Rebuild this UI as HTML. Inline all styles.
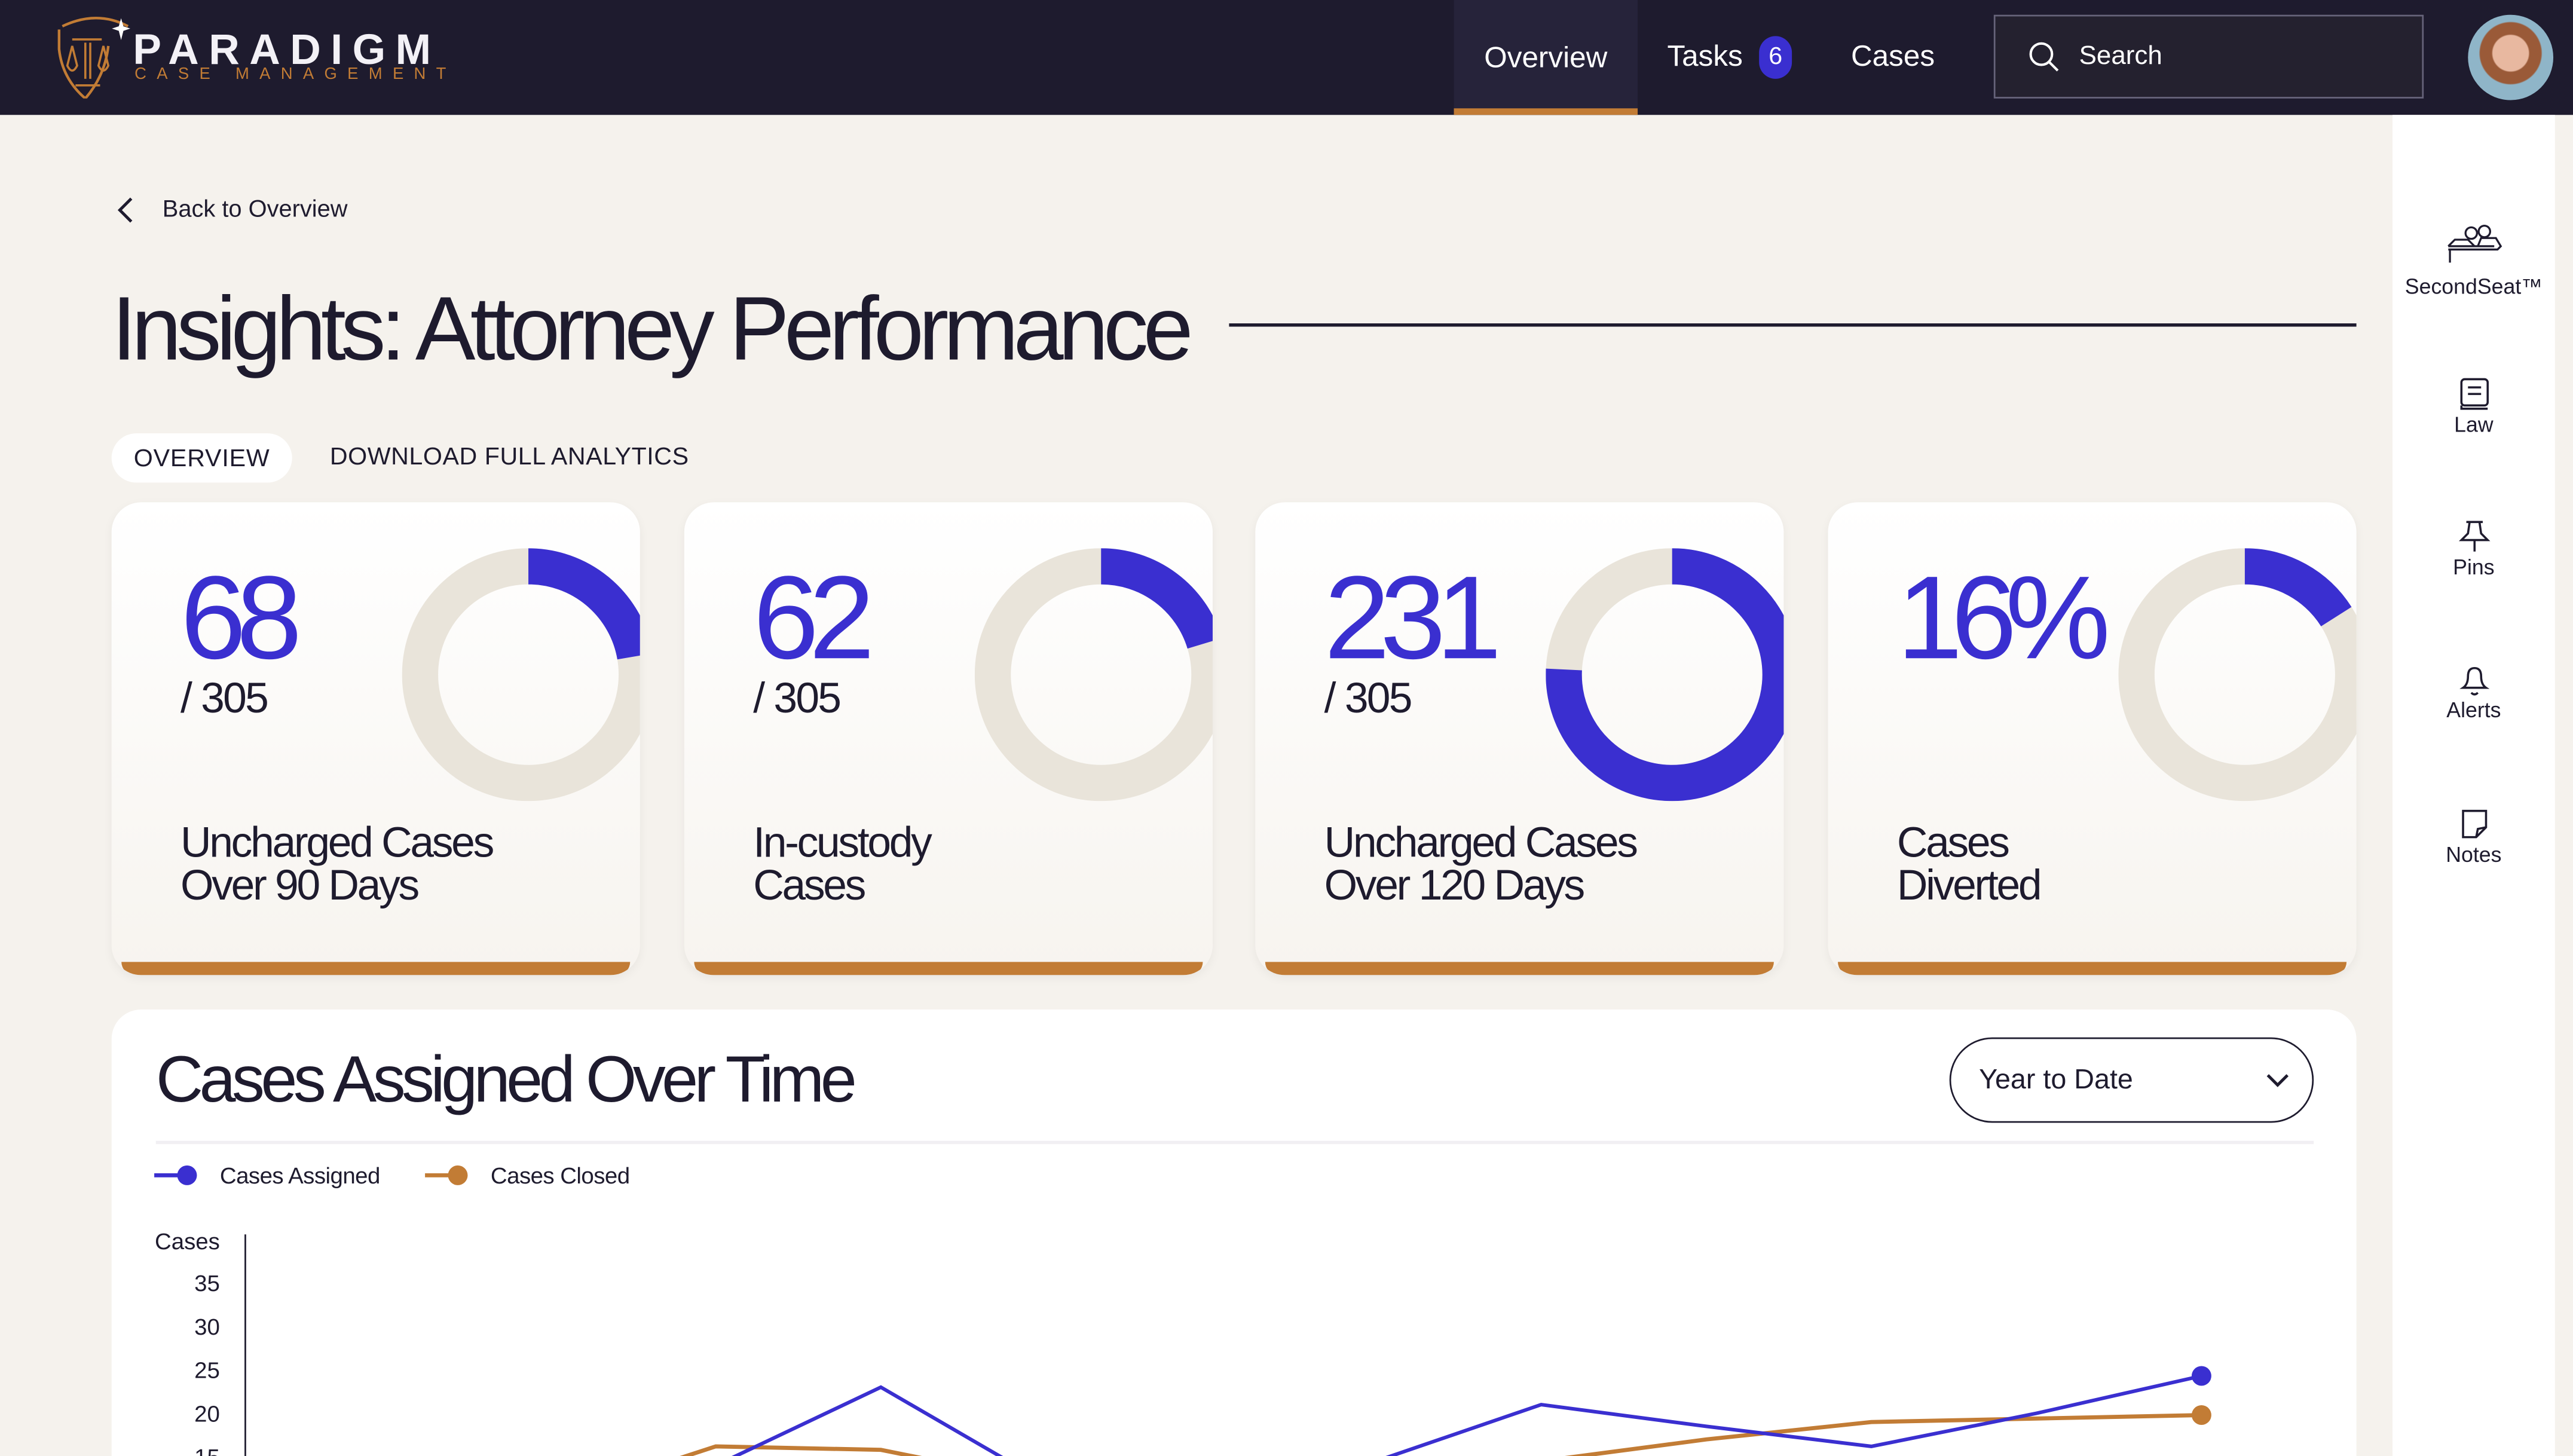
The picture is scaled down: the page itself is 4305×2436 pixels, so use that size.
<!DOCTYPE html>
<html><head><meta charset="utf-8">
<style>
html,body{margin:0;padding:0;width:4305px;height:2436px;overflow:hidden;background:#f5f2ed;font-family:"Liberation Sans",sans-serif;}
#root{position:absolute;left:0;top:0;width:1568px;height:887px;transform-origin:0 0;transform:scale(2.74554,2.74634);background:#f5f2ed;overflow:hidden;color:#1e1b2e;}
.abs{position:absolute;}
.card{position:absolute;top:306px;width:322px;height:288px;border-radius:18px;background:linear-gradient(#ffffff,#f7f4ef);overflow:hidden;box-shadow:0 2px 6px rgba(0,0,0,0.05);}
.card .bar{position:absolute;left:6px;right:6px;bottom:0;height:8px;background:#c27c35;border-radius:0 0 12px 12px;}
.num{position:absolute;left:42px;top:30px;font-size:72px;color:#3a2fd0;letter-spacing:-6px;}
.den{position:absolute;left:42px;top:104px;font-size:26px;letter-spacing:-1px;}
.lbl{position:absolute;left:42px;top:194px;font-size:26px;line-height:26px;letter-spacing:-1.2px;}
.side{position:absolute;left:1458px;width:99px;text-align:center;font-size:13px;}
</style></head><body>
<div id="root">
 <div class="abs" style="left:0;top:0;width:1568px;height:70px;background:#1e1b2e;"></div>
 <svg class="abs" style="left:24px;top:10px" width="60" height="50" viewBox="0 0 60 50">
  <path d="M14 6 Q35 -4 54 6 M12 8 L12 20 Q14 38 28 50 Q40 36 42 18" fill="none" stroke="#c27c35" stroke-width="1.6"/>
  <path d="M34 3 L36 10 L42 12 L36 14 L34 22 L32 14 L26 12 L32 10Z" fill="#fff" transform="translate(26,-1) scale(0.7)"/>
  <path d="M20 14 L38 14 M28 16 L28 38 M31 16 L31 38 M22 42 L37 42 M20 18 L17 30 Q20 36 23 30 Z M39 18 L36 30 Q39 36 42 30 Z" fill="none" stroke="#c27c35" stroke-width="1.3"/>
 </svg>
 <div class="abs" style="left:81px;top:15px;font-size:26px;letter-spacing:6px;color:#f3f1f6;font-weight:bold;">PARADIGM</div>
 <div class="abs" style="left:82px;top:40px;font-size:10px;letter-spacing:6.3px;color:#c27c35;">CASE MANAGEMENT</div>
 <div class="abs" style="left:886px;top:0;width:112px;height:66px;background:#26233a;border-bottom:4px solid #c27c35;color:#fff;font-size:18px;line-height:70px;text-align:center;">Overview</div>
 <div class="abs" style="left:1016px;top:24px;color:#fff;font-size:18px;">Tasks</div>
 <div class="abs" style="left:1072px;top:22px;width:20px;height:26px;border-radius:10px;background:#3a2fd0;color:#fff;font-size:15px;line-height:26px;text-align:center;">6</div>
 <div class="abs" style="left:1128px;top:24px;color:#fff;font-size:18px;">Cases</div>
 <div class="abs" style="left:1215px;top:9px;width:262px;height:51px;border:1px solid #66637a;background:#24212f;box-sizing:border-box;"></div>
 <svg class="abs" style="left:1236px;top:25px" width="20" height="20"><circle cx="8" cy="8" r="6.5" fill="none" stroke="#fff" stroke-width="1.5"/><line x1="13" y1="13" x2="18" y2="18" stroke="#fff" stroke-width="1.5"/></svg>
 <div class="abs" style="left:1267px;top:26px;color:#fff;font-size:16px;">Search</div>
 <div class="abs" style="left:1504px;top:9px;width:52px;height:52px;border-radius:50%;background:radial-gradient(circle at 50% 45%,#e8b8a0 0 28%,#9a5a38 30% 48%,#8fb5c8 50%);"></div>

 <div class="abs" style="left:1458px;top:70px;width:99px;height:817px;background:#fff;"></div>
 <svg class="abs" style="left:1490px;top:136px" width="36" height="26"><circle cx="16" cy="6" r="3.5" fill="none" stroke="#1e1b2e" stroke-width="1.2"/><circle cx="24" cy="5" r="3.5" fill="none" stroke="#1e1b2e" stroke-width="1.2"/><path d="M2 14 L30 14 M3 24 L3 16 M2 14 L6 10 L14 10 L18 14 M20 14 L22 9 L31 9 L34 14 L32 16 L2 16" fill="none" stroke="#1e1b2e" stroke-width="1.2"/></svg>
 <div class="side" style="top:167px;">SecondSeat™</div>
 <svg class="abs" style="left:1498px;top:230px" width="20" height="20"><rect x="2" y="1" width="16" height="16" rx="2" fill="none" stroke="#1e1b2e" stroke-width="1.3"/><path d="M6 6 H14 M6 10 H14 M2 17 V19 H18" fill="none" stroke="#1e1b2e" stroke-width="1.3"/></svg>
 <div class="side" style="top:251px;">Law</div>
 <svg class="abs" style="left:1498px;top:317px" width="20" height="20"><path d="M5 1 H15 M7 1 L6 8 L2 12 H18 L14 8 L13 1 M10 12 V19" fill="none" stroke="#1e1b2e" stroke-width="1.3"/></svg>
 <div class="side" style="top:338px;">Pins</div>
 <svg class="abs" style="left:1498px;top:404px" width="20" height="20"><path d="M3 15 Q6 13 6 8 Q6 3 10 3 Q14 3 14 8 Q14 13 17 15 Z M8 18 Q10 20 12 18" fill="none" stroke="#1e1b2e" stroke-width="1.3"/></svg>
 <div class="side" style="top:425px;">Alerts</div>
 <svg class="abs" style="left:1498px;top:492px" width="20" height="20"><path d="M3 2 H17 V12 L11 18 H3 Z M11 18 L12 13 L17 12" fill="none" stroke="#1e1b2e" stroke-width="1.3"/></svg>
 <div class="side" style="top:513px;">Notes</div>

 <svg class="abs" style="left:70px;top:119px" width="14" height="18"><path d="M10 2 L3 9 L10 16" fill="none" stroke="#1e1b2e" stroke-width="1.8"/></svg>
 <div class="abs" style="left:99px;top:120px;font-size:14.5px;">Back to Overview</div>
 <div class="abs" style="left:68px;top:168px;font-size:55px;letter-spacing:-3.2px;white-space:nowrap;">Insights: Attorney Performance</div>
 <div class="abs" style="left:749px;top:197px;width:687px;height:2px;background:#1e1b2e;"></div>
 <div class="abs" style="left:68px;top:264px;width:110px;height:30px;border-radius:15px;background:#fff;text-align:center;line-height:31px;font-size:15px;letter-spacing:0.3px;">OVERVIEW</div>
 <div class="abs" style="left:201px;top:270px;font-size:15px;letter-spacing:0.2px;">DOWNLOAD FULL ANALYTICS</div>

 <div class="card" style="left:68px;">
  <div class="num">68</div>
  <div class="den">/ 305</div>
  <div class="lbl">Uncharged Cases<br>Over 90 Days</div>
  <svg class="abs donut" data-v="68" data-t="305" style="left:177px;top:28px" width="154" height="154"></svg>
  <div class="bar"></div>
 </div>
 <div class="card" style="left:417px;">
  <div class="num">62</div>
  <div class="den">/ 305</div>
  <div class="lbl">In-custody<br>Cases</div>
  <svg class="abs donut" data-v="62" data-t="305" style="left:177px;top:28px" width="154" height="154"></svg>
  <div class="bar"></div>
 </div>
 <div class="card" style="left:765px;">
  <div class="num">231</div>
  <div class="den">/ 305</div>
  <div class="lbl">Uncharged Cases<br>Over 120 Days</div>
  <svg class="abs donut" data-v="231" data-t="305" style="left:177px;top:28px" width="154" height="154"></svg>
  <div class="bar"></div>
 </div>
 <div class="card" style="left:1114px;">
  <div class="num" style="letter-spacing:-7px">16%</div>
  <div class="lbl">Cases<br>Diverted</div>
  <svg class="abs donut" data-v="16" data-t="100" style="left:177px;top:28px" width="154" height="154"></svg>
  <div class="bar"></div>
 </div>

 <div class="abs" style="left:68px;top:615px;width:1368px;height:300px;background:#fff;border-radius:18px;"></div>
 <div class="abs" style="left:95px;top:636px;font-size:40px;letter-spacing:-2.4px;">Cases Assigned Over Time</div>
 <div class="abs" style="left:1188px;top:632px;width:222px;height:52px;border:1.5px solid #1e1b2e;border-radius:27px;box-sizing:border-box;"></div>
 <div class="abs" style="left:1206px;top:648px;font-size:17px;">Year to Date</div>
 <svg class="abs" style="left:1380px;top:652px" width="16" height="12"><path d="M2 3 L8 9 L14 3" fill="none" stroke="#1e1b2e" stroke-width="1.8"/></svg>
 <div class="abs" style="left:95px;top:695px;width:1315px;height:2px;background:#f1eff3;"></div>
 <svg class="abs" id="chart" style="left:0;top:700px" width="1458" height="187"></svg>
</div>
<script>
const NS="http://www.w3.org/2000/svg";
function mk(tag,attrs,parent){const e=document.createElementNS(NS,tag);for(const k in attrs)e.setAttribute(k,attrs[k]);parent.appendChild(e);return e;}
document.querySelectorAll('.donut').forEach(s=>{
  const v=+s.dataset.v,t=+s.dataset.t,cx=77,cy=77,r=66,c=2*Math.PI*r;
  const a=mk('circle',{cx:cx,cy:cy,r:r,fill:'none',stroke:'#e9e4da','stroke-width':22},s);
  
  
  const b=mk('circle',{cx:cx,cy:cy,r:r,fill:'none',stroke:'#3a2fd0','stroke-width':22,'stroke-dasharray':(c*v/t)+' '+c,transform:'rotate(-90 77 77)'},s);
  
  
});
</script>
<script>
const months=["Jan","Feb","Mar","Apr","May","Jun","Jul","Aug","Sep","Oct","Nov","Dec"];
const assigned=[10,8,14,23,12,10,14.5,21,18.5,16.2,20,24.3];
const closed=[9,10,16.2,15.8,12,11,12,14.5,17,19,19.4,19.8];
const yTicks=[15,20,25,30,35];
const svg=document.getElementById('chart');
const OFF=700;
function xs(i){return 235+i*100.6;}
function ys(v){return 861-OFF-(v-20)*5.3;}
const l1=mk('line',{x1:94,y1:16,x2:114,y2:16,stroke:'#3a2fd0','stroke-width':2.5},svg);


const c1=mk('circle',{cx:114,cy:16,r:6,fill:'#3a2fd0'},svg);


const t1=mk('text',{x:134,y:21,'font-size':14,fill:'#1e1b2e','letter-spacing':-0.2},svg);t1.textContent='Cases Assigned';


const l2=mk('line',{x1:259,y1:16,x2:279,y2:16,stroke:'#c27c35','stroke-width':2.5},svg);


const c2=mk('circle',{cx:279,cy:16,r:6,fill:'#c27c35'},svg);


const t2=mk('text',{x:299,y:21,'font-size':14,fill:'#1e1b2e','letter-spacing':-0.2},svg);t2.textContent='Cases Closed';


const yt=mk('text',{x:134,y:61,'font-size':14,'text-anchor':'end',fill:'#1e1b2e'},svg);yt.textContent='Cases';


const ax=mk('line',{x1:149.5,y1:52,x2:149.5,y2:200,stroke:'#1e1b2e','stroke-width':1},svg);


yTicks.forEach(v=>{const t=mk('text',{x:134,y:ys(v)+5,'font-size':14,'text-anchor':'end',fill:'#1e1b2e'},svg);t.textContent=v;
 
 });
function series(data,color,w,name){
 const p=mk('polyline',{points:data.map((v,i)=>xs(i)+','+ys(v)).join(' '),fill:'none',stroke:color,'stroke-width':w},svg);
 
 
 const n=data.length-1;
 const d=mk('circle',{cx:xs(n),cy:ys(data[n]),r:6,fill:color},svg);
 
 
}
series(closed,'#c27c35',2.5,'cases-closed');
series(assigned,'#3a2fd0',2.2,'cases-assigned');
</script>
</body></html>
